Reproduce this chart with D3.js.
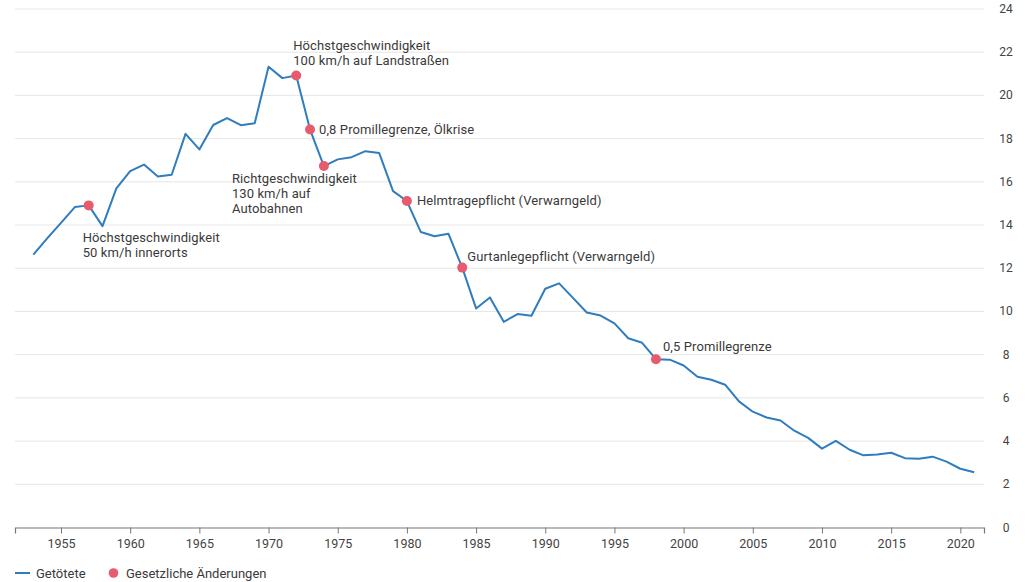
<!DOCTYPE html>
<html>
<head>
<meta charset="utf-8">
<script src="https://cdn.jsdelivr.net/npm/d3@7"></script>
<style>
body { margin: 0; background: #fff; }
svg { font-family: Roboto, "Noto Sans", sans-serif; }
</style>
</head>
<body>
<div id="chart"></div>
<script>
// Verkehrstote in Deutschland, in Tausend
var firstYear = 1953;
var deaths = [
	12.63, 13.38, 14.1, 14.83, 14.91, 13.95, 15.7, 16.5, 16.8, 16.25,
	16.33, 18.22, 17.5, 18.63, 18.95, 18.62, 18.71, 21.33, 20.8, 20.92,
	18.42, 16.73, 17.04, 17.14, 17.42, 17.33, 15.57, 15.11, 13.68, 13.48,
	13.6, 12.03, 10.14, 10.65, 9.52, 9.88, 9.8, 11.05, 11.3, 10.63,
	9.95, 9.81, 9.45, 8.76, 8.55, 7.79, 7.77, 7.5, 6.98, 6.84,
	6.61, 5.84, 5.36, 5.09, 4.95, 4.48, 4.15, 3.65, 4.01, 3.6,
	3.34, 3.38, 3.46, 3.21, 3.18, 3.28, 3.05, 2.72, 2.56
];
var eventYears = [1957, 1972, 1973, 1974, 1980, 1984, 1998];
var eventLabels = [
	["Höchstgeschwindigkeit", "50 km/h innerorts"],
	["Höchstgeschwindigkeit", "100 km/h auf Landstraßen"],
	["0,8 Promillegrenze, Ölkrise"],
	["Richtgeschwindigkeit", "130 km/h auf", "Autobahnen"],
	["Helmtragepflicht (Verwarngeld)"],
	["Gurtanlegepflicht (Verwarngeld)"],
	["0,5 Promillegrenze"]
];
var xTicks = [1955, 1960, 1965, 1970, 1975, 1980, 1985, 1990, 1995, 2000, 2005, 2010, 2015, 2020];
var yTicks = [0, 2, 4, 6, 8, 10, 12, 14, 16, 18, 20, 22, 24];
var legendLabels = ["Getötete", "Gesetzliche Änderungen"];

var lineColor = "#2f7cbf";
var dotColor = "#e85a6e";
var textColor = "#3a3a3a";

// label offsets relative to the dot (x shift, first baseline shift)
var labelPos = [
	{dx: -6, dy: 37}, {dx: -3, dy: -26}, {dx: 9, dy: 4},
	{dx: -92, dy: 17}, {dx: 10, dy: 4}, {dx: 5, dy: -7}, {dx: 7, dy: -8}
];

var size = {w: 1025, h: 582};
var plot = {left: 15, right: 984, top: 9, bottom: 527.5};

var data = deaths.map(function (v, i) { return {year: firstYear + i, value: v}; });

var x = d3.scaleLinear().domain([1951.675, 2021.71]).range([plot.left, plot.right]);
var y = d3.scaleLinear().domain([0, 24]).range([plot.bottom, plot.top]);

var svg = d3.select("#chart")
	.append("svg")
	.attr("width", size.w)
	.attr("height", size.h);

// horizontal gridlines
svg.append("g")
	.selectAll("line")
	.data(yTicks.filter(function (d) { return d > 0; }))
	.enter()
	.append("line")
	.attr("x1", plot.left)
	.attr("x2", plot.right)
	.attr("y1", function (d) { return y(d); })
	.attr("y2", function (d) { return y(d); })
	.attr("stroke", "#e6e6e6")
	.attr("stroke-width", 1);

// y labels on the right
svg.append("g")
	.selectAll("text")
	.data(yTicks)
	.enter()
	.append("text")
	.attr("x", 1006)
	.attr("y", function (d) { return y(d) + 4; })
	.attr("text-anchor", "middle")
	.attr("font-size", 12)
	.attr("fill", "#444")
	.text(function (d) { return d; });

// x axis
var xAxis = d3.axisBottom(x)
	.tickValues(xTicks)
	.tickFormat(d3.format("d"))
	.tickSize(6)
	.tickPadding(6);

var gx = svg.append("g")
	.attr("transform", "translate(0," + plot.bottom + ")")
	.call(xAxis);
gx.select(".domain").attr("stroke", "#777").attr("stroke-width", 1.2);
gx.selectAll(".tick line").attr("stroke", "#777");
gx.selectAll(".tick text")
	.attr("font-family", "Roboto, 'Noto Sans', sans-serif")
	.attr("font-size", 12.5)
	.attr("fill", "#444");

// the line
var line = d3.line()
	.x(function (d) { return x(d.year); })
	.y(function (d) { return y(d.value); });

svg.append("path")
	.datum(data)
	.attr("d", line)
	.attr("fill", "none")
	.attr("stroke", lineColor)
	.attr("stroke-width", 2)
	.attr("stroke-linejoin", "round");

// events
var events = eventYears.map(function (yr, i) {
	return {year: yr, value: deaths[yr - firstYear], lines: eventLabels[i], pos: labelPos[i]};
});

svg.append("g")
	.selectAll("circle")
	.data(events)
	.enter()
	.append("circle")
	.attr("cx", function (d) { return x(d.year); })
	.attr("cy", function (d) { return y(d.value); })
	.attr("r", 5)
	.attr("fill", dotColor);

var labels = svg.append("g")
	.selectAll("text")
	.data(events)
	.enter()
	.append("text")
	.attr("font-size", 13)
	.attr("letter-spacing", 0.1)
	.attr("fill", textColor)
	.attr("transform", function (d) {
		return "translate(" + (x(d.year) + d.pos.dx) + "," + (y(d.value) + d.pos.dy) + ")";
	});

labels.selectAll("tspan")
	.data(function (d) { return d.lines; })
	.enter()
	.append("tspan")
	.attr("x", 0)
	.attr("y", function (d, i) { return i * 15; })
	.text(function (d) { return d; });

// legend
var legend = svg.append("g").attr("transform", "translate(15,573)");
legend.append("line")
	.attr("x1", 0).attr("x2", 15)
	.attr("y1", 0).attr("y2", 0)
	.attr("stroke", lineColor)
	.attr("stroke-width", 2);
legend.append("text")
	.attr("x", 21).attr("y", 4.5)
	.attr("font-size", 13)
	.attr("fill", textColor)
	.text(legendLabels[0]);
legend.append("circle")
	.attr("cx", 98.5).attr("cy", 0)
	.attr("r", 4.8)
	.attr("fill", dotColor);
legend.append("text")
	.attr("x", 111).attr("y", 4.5)
	.attr("font-size", 13)
	.attr("fill", textColor)
	.text(legendLabels[1]);
</script>
</body>
</html>
